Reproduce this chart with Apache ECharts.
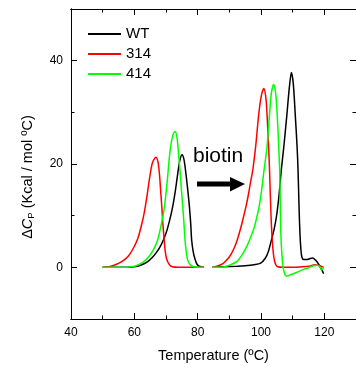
<!DOCTYPE html>
<html><head><meta charset="utf-8">
<script src="https://cdn.jsdelivr.net/npm/echarts@6/dist/echarts.min.js"></script>
<style>html,body{margin:0;padding:0;background:#fff}#c{width:356px;height:368px}</style>
</head><body><div id="c"></div>
<script>
// ---- data: [temperature (ºC), ΔCp (Kcal / mol ºC)] ----
const wtBefore = [[50,0],[56,0],[60,0.1],[62,0.4],[64,1],[65.5,1.8],[67,2.9],[68.5,4.4],[70,6.6],[71.1,9],[72.1,11.7],[73,15],[73.7,18.1],[74.4,20.8],[75.1,21.8],[75.7,20.8],[76.3,18.1],[76.9,14.8],[77.4,11.7],[77.8,8.5],[78.1,5.3],[78.6,3],[79.2,1.5],[79.8,0.6],[80.5,0.2],[82,0]];
const wtAfter = [[84.7,0],[88,0.1],[92.5,0.2],[95,0.3],[97.8,0.5],[99.9,0.8],[101.4,1.8],[102.3,3],[103,4.6],[104,7],[104.6,8.8],[105.1,10.8],[105.7,14],[106.4,18.8],[107.2,23.3],[108.2,29.7],[108.9,34.5],[109.6,37.7],[110.2,35.5],[110.8,29.7],[111.4,23.3],[111.7,18.8],[112,12],[112.3,6.5],[112.6,3.5],[112.9,2],[113.5,1.5],[114.5,1.5],[115.5,1.7],[116.3,1.8],[117.2,1.4],[118.2,0.6],[119,-0.3],[119.8,-1.2]];
const m314Before = [[50,0],[52,0.1],[54,0.5],[56,1.1],[58,2.1],[59.6,3.6],[61.1,5.6],[62.2,8],[63.2,10.8],[64,13.8],[64.8,17.2],[65.7,20.2],[66.8,21.3],[67.5,20.3],[68,17.5],[68.3,14.9],[68.7,11.5],[69,8.5],[69.4,5.5],[69.7,3.4],[70.2,1.6],[71.1,0.5],[72,0.1],[74,0],[82,0]];
const m314After = [[84.7,0],[86,0.2],[87.3,0.5],[88.3,0.9],[90,2],[91.5,3.7],[92.6,5.5],[93.6,7.6],[94.5,9.8],[95.2,11.6],[96,14],[96.7,16.5],[97.4,18.8],[98.3,23.3],[99.3,29.7],[100.1,33.2],[100.9,34.6],[101.5,33],[101.9,29.7],[102.4,23.3],[102.7,18.8],[103,13],[103.3,8],[103.7,4],[104.1,1.8],[104.6,0.6],[105.3,0.1],[107,0],[110,0],[113,0.1],[115,0.2],[117,0.5],[118.5,0.3],[119.8,0]];
const m414Before = [[50,0],[56,0],[59,0.1],[61,0.4],[63,1.1],[64.5,2],[66,3.4],[67.2,5],[68.2,7.4],[69,9.8],[69.5,11.7],[70.1,15],[70.6,18.1],[71.1,21.5],[71.6,23.9],[72.2,25.6],[72.9,26.3],[73.4,25.4],[73.7,23.9],[74.1,21],[74.5,18.1],[74.9,14.8],[75.3,11.7],[75.7,8.2],[76,5.3],[76.4,3],[76.8,1.5],[77.5,0.6],[78.4,0.2],[80,0],[82,0]];
const m414After = [[84.7,0],[88,0.05],[90,0.4],[92.5,1.2],[94.2,2.6],[95.7,4.3],[96.8,5.9],[97.8,7.6],[98.6,9.5],[99.3,11.4],[99.9,13.6],[100.4,15.9],[100.9,18.5],[101.9,23.3],[102.7,29.7],[103.3,33.8],[104,35.4],[104.6,33.8],[105.1,29.7],[105.6,23.3],[105.9,18.8],[106.1,12],[106.3,6],[106.6,2.5],[107,0],[107.5,-1.3],[108,-1.7],[109,-1.5],[110.8,-1.1],[113,-0.5],[115,-0.1],[116.5,0.3],[117.7,0.4],[118.6,0.1],[119.2,-0.5],[119.8,0]];
const seriesNames = ['WT','314','414'];
const seriesColors = ['#000000','#ff0000','#00ff00'];
const xMajorTicks = [40,60,80,100,120];
const xMinorTicks = [50,70,90,110];
const yMajorTicks = [0,20,40];
const yMinorTicks = [10,30];

const chart = echarts.init(document.getElementById('c'), null, {renderer:'canvas'});
const FONT = 'Liberation Sans, Arial, sans-serif';
const X_MIN = 40, X_MAX = 130, Y_MIN = -10, Y_MAX = 50;

function joined(a, b){ return a.concat([['-','-']], b); }
const allData = [joined(wtBefore, wtAfter), joined(m314Before, m314After), joined(m414Before, m414After)];

function xAx(pos, ticks, len, labels){
  return {type:'value', position:pos, min:X_MIN, max:X_MAX, interval:10,
    axisLine:{show:true, onZero:false, lineStyle:{color:'#000', width:1}},
    axisTick:{show:true, inside:true, length:len, customValues:ticks, lineStyle:{color:'#000', width:1}},
    axisLabel:labels ? {show:true, customValues:xMajorTicks, color:'#000', fontSize:12, fontFamily:FONT, margin:8} : {show:false},
    splitLine:{show:false},
    name: labels ? 'Temperature (ºC)' : '', nameLocation:'middle', nameGap:29,
    nameTextStyle:{color:'#000', fontSize:14.5, fontFamily:FONT}};
}
function yAx(pos, ticks, len, labels){
  return {type:'value', position:pos, min:Y_MIN, max:Y_MAX, interval:10,
    axisLine:{show:true, onZero:false, lineStyle:{color:'#000', width:1}},
    axisTick:{show:true, inside:true, length:len, customValues:ticks, lineStyle:{color:'#000', width:1}},
    axisLabel:labels ? {show:true, customValues:yMajorTicks, color:'#000', fontSize:12, fontFamily:FONT, margin:8} : {show:false},
    splitLine:{show:false}};
}

const option = {
  animation:false,
  backgroundColor:'#fff',
  grid:{left:71, top:9, width:288, height:313, containLabel:false},
  xAxis:[xAx('bottom', xMajorTicks, 6, true), xAx('bottom', xMinorTicks, 3.5, false),
         xAx('top', xMajorTicks, 6, false), xAx('top', xMinorTicks, 3.5, false)],
  yAxis:[yAx('left', yMajorTicks, 6, true), yAx('left', yMinorTicks, 3.5, false),
         yAx('right', yMajorTicks, 6, false), yAx('right', yMinorTicks, 3.5, false)],
  legend:{orient:'vertical', left:88, top:25.5, padding:0, itemWidth:33, itemHeight:2, itemGap:3,
    data:seriesNames.map((n,i)=>({name:n, icon:'rect', itemStyle:{color:seriesColors[i]}})),
    textStyle:{color:'#000', fontSize:15, fontFamily:FONT, lineHeight:17}},
  series: seriesNames.map((n,i)=>({
    name:n, type:'line', data:allData[i], xAxisIndex:0, yAxisIndex:0,
    symbol:'none', smooth:0.3, connectNulls:false,
    lineStyle:{color:seriesColors[i], width:1.5}, itemStyle:{color:seriesColors[i]}
  })),
  graphic:[
    {type:'text', left:193, top:146, style:{text:'biotin', fill:'#000', font:'21px '+FONT}},
    {type:'polygon', shape:{points:[[197,181.5],[230,181.5],[230,177],[245,184],[230,191.5],[230,186.5],[197,186.5]]}, style:{fill:'#000'}},
    {type:'text', x:28, y:177, rotation:Math.PI/2,
      style:{text:'{n|Δ}{i|C}{s|P}{n| (Kcal / mol ºC)}', align:'center', verticalAlign:'middle', fill:'#000',
        rich:{n:{fontSize:14.5, fontFamily:FONT, fill:'#000'},
              i:{fontSize:14.5, fontFamily:FONT, fontStyle:'italic', fill:'#000'},
              s:{fontSize:9.5, fontFamily:FONT, fill:'#000', verticalAlign:'bottom', padding:[6,0,0,0]}}}}
  ]
};
chart.setOption(option);
</script></body></html>
